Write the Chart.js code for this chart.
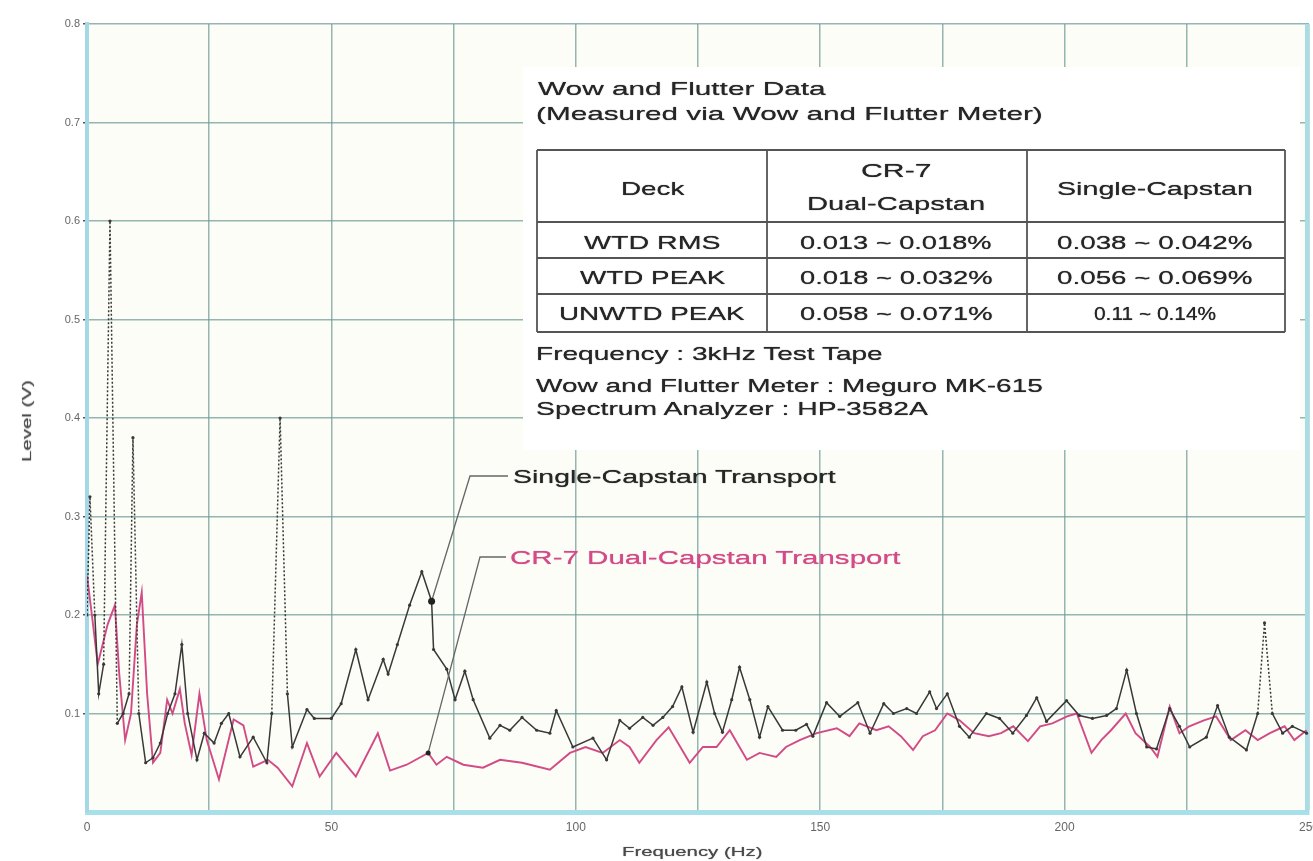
<!DOCTYPE html>
<html lang="en">
<head>
<meta charset="UTF-8" />
<title>Wow and Flutter Spectrum</title>
<script src="https://cdn.jsdelivr.net/npm/chart.js@4.4.1/dist/chart.umd.min.js"></script>
<style>
  html,body{margin:0;padding:0;background:#fff}
  #wrap{position:relative;width:1313px;height:861px;overflow:hidden;font-family:'Liberation Sans',Arial,sans-serif}
  #c{position:absolute;left:0;top:0}
  .t{position:absolute;white-space:nowrap;line-height:1;color:#262626;font-size:19px;transform-origin:0 50%;text-shadow:0 0 0.7px currentColor}
</style>
</head>
<body>
<div id="wrap"><canvas id="c" width="1313" height="861"></canvas></div>
<script>
// Single-Capstan transport (black trace): frequency in Hz, level in V
const singleFreq = [0, 0.6, 1.6, 2.4, 3.4, 4.7, 6.2, 7.4, 8.6, 9.4, 10.6, 12, 13.5, 15, 16.5, 18, 19.4, 20.6, 22.5, 24,
  26, 27.5, 29, 31.3, 34, 36.8, 37.8, 39.5, 41, 42, 45, 46.5, 50, 52, 55, 57.5, 60.6, 61.6, 63.5, 66,
  68.5, 70.5, 70.9, 73.6, 75.3, 77.3, 79, 82.4, 84.5, 86.5, 89, 92, 94.7, 96, 99.4, 103.5, 106.3, 109, 111, 113.7,
  115.8, 117.8, 119.8, 121.7, 124, 126.8, 128.4, 130, 131.9, 133.5, 135.6, 137.6, 139.3, 142.3, 145, 147.2, 148.5, 151.3, 154, 157.7,
  160.2, 163, 165, 167.7, 169.7, 172.4, 173.8, 176, 178.5, 180.5, 184, 186.7, 189.4, 192.2, 194.3, 196.3, 200.4, 203, 205.7, 208.6,
  210.6, 212.7, 214.7, 216.8, 218.8, 221.5, 223.5, 225.6, 229, 231.3, 233.7, 237.2, 239.5, 240.9, 242.5, 244.6, 246.6, 249.5];
const singleLevel = [0.2, 0.32, 0.2, 0.12, 0.15, 0.6, 0.09, 0.1, 0.12, 0.38, 0.1, 0.05, 0.055, 0.07, 0.1, 0.12, 0.17, 0.1, 0.053, 0.08,
  0.07, 0.09, 0.1, 0.056, 0.076, 0.05, 0.1, 0.4, 0.12, 0.066, 0.104, 0.095, 0.095, 0.11, 0.165, 0.114, 0.155, 0.14, 0.17, 0.21,
  0.244, 0.214, 0.165, 0.145, 0.114, 0.143, 0.114, 0.075, 0.088, 0.083, 0.096, 0.083, 0.08, 0.103, 0.066, 0.075, 0.053, 0.093, 0.085, 0.096,
  0.088, 0.096, 0.107, 0.127, 0.081, 0.132, 0.1, 0.081, 0.114, 0.147, 0.114, 0.076, 0.107, 0.083, 0.083, 0.089, 0.077, 0.111, 0.097, 0.111,
  0.08, 0.11, 0.1, 0.105, 0.1, 0.122, 0.105, 0.12, 0.087, 0.076, 0.1, 0.095, 0.08, 0.098, 0.116, 0.092, 0.113, 0.098, 0.095, 0.098,
  0.105, 0.144, 0.1, 0.066, 0.064, 0.105, 0.087, 0.066, 0.076, 0.108, 0.076, 0.063, 0.1, 0.192, 0.1, 0.08, 0.087, 0.08];

// CR-7 Dual-Capstan transport (pink trace)
const dualFreq = [0, 1, 2.2, 3.2, 4.2, 5.7, 6.6, 7.8, 9, 10.2, 11.2, 12.3, 13.5, 15, 16.4, 17.5, 19, 20, 21.4, 23,
  24.5, 27, 30, 32, 34, 37, 39, 42, 45, 47.6, 51, 55, 59.5, 62, 65.4, 69.8, 71.5, 73.6, 77, 81,
  84.5, 89, 94.7, 98.8, 102, 105.5, 109, 111, 113, 116.5, 119, 123.3, 126, 128.8, 131.5, 135, 137.6, 141, 143, 145.8,
  149.3, 153.4, 156, 158, 161.5, 164, 166.5, 169, 171, 173.5, 176, 178.5, 181.5, 184.5, 187, 189.5, 192.5, 195, 197.5, 200.5,
  202.5, 205.5, 207.5, 209.5, 212.5, 214.5, 217.5, 219, 221.5, 223.5, 225.5, 228.5, 231, 234, 237, 239.5, 242, 245, 247, 249.5];
const dualLevel = [0.24, 0.2, 0.15, 0.17, 0.19, 0.21, 0.14, 0.073, 0.1, 0.19, 0.223, 0.12, 0.05, 0.06, 0.114, 0.1, 0.125, 0.09, 0.058, 0.12,
  0.073, 0.033, 0.094, 0.088, 0.046, 0.053, 0.045, 0.026, 0.07, 0.036, 0.06, 0.036, 0.08, 0.042, 0.048, 0.06, 0.048, 0.056, 0.048, 0.045,
  0.053, 0.05, 0.043, 0.06, 0.066, 0.06, 0.073, 0.066, 0.05, 0.073, 0.086, 0.05, 0.066, 0.066, 0.083, 0.053, 0.06, 0.056, 0.066, 0.073,
  0.08, 0.085, 0.077, 0.09, 0.083, 0.087, 0.077, 0.063, 0.077, 0.083, 0.1, 0.093, 0.08, 0.077, 0.08, 0.087, 0.072, 0.087, 0.09, 0.097,
  0.1, 0.06, 0.073, 0.083, 0.1, 0.08, 0.066, 0.056, 0.107, 0.08, 0.087, 0.093, 0.097, 0.073, 0.083, 0.073, 0.08, 0.087, 0.073, 0.083];

const seriesNames = ['Single-Capstan Transport', 'CR-7 Dual-Capstan Transport'];
const xTickValues = [0, 50, 100, 150, 200, 250];
const yTickValues = [0.1, 0.2, 0.3, 0.4, 0.5, 0.6, 0.7, 0.8];

// wow & flutter table
const tableTitle = ['Wow and Flutter Data', '(Measured via Wow and Flutter Meter)'];
const tableHead = ['Deck', ['CR-7', 'Dual-Capstan'], 'Single-Capstan'];
const tableRows = [
  ['WTD RMS', '0.013 ~ 0.018%', '0.038 ~ 0.042%'],
  ['WTD PEAK', '0.018 ~ 0.032%', '0.056 ~ 0.069%'],
  ['UNWTD PEAK', '0.058 ~ 0.071%', '0.11 ~ 0.14%'],
];
const tableNotes = ['Frequency : 3kHz Test Tape', 'Wow and Flutter Meter : Meguro MK-615', 'Spectrum Analyzer : HP-3582A'];

// leader line targets (which point each label points at)
const singleLeaderFreq = 70.5;
const dualLeaderFreq = 69.8;

const BLACK = '#383838';
const PINK = '#d24b86';

const wrap = document.getElementById('wrap');

function place(text, x, y, o = {}) {
  const d = document.createElement('div');
  d.className = 't';
  d.textContent = text;
  if (o.size) d.style.fontSize = o.size + 'px';
  if (o.color) d.style.color = o.color;
  wrap.appendChild(d);
  const nat = d.offsetWidth, h = d.offsetHeight;
  const sx = o.w ? o.w / nat : (o.sx || 1.47);
  if (o.rot) {
    d.style.transformOrigin = '50% 50%';
    d.style.left = (x - nat / 2) + 'px';
    d.style.top = (y - h / 2) + 'px';
    d.style.transform = `rotate(-90deg) scaleX(${sx})`;
    return;
  }
  const w = nat * sx;
  d.style.left = (o.align === 'center' ? x - w / 2 : x) + 'px';
  d.style.top = (y - h / 2) + 'px';
  d.style.transform = `scaleX(${sx})`;
}

function pointPx(chart, f, list, levels) {
  const i = list.indexOf(f);
  return [chart.scales.x.getPixelForValue(f), chart.scales.y.getPixelForValue(levels[i])];
}

const annot = {
  id: 'annot',
  beforeDraw(chart) {
    const { ctx, chartArea: a } = chart;
    ctx.save();
    ctx.fillStyle = '#fcfdf6';
    ctx.fillRect(a.left, a.top, a.right - a.left, a.bottom - a.top);
    ctx.restore();
  },
  beforeDatasetsDraw(chart) {
    const { ctx, chartArea: a } = chart;
    ctx.save();
    // white panel behind the table
    ctx.fillStyle = '#ffffff';
    ctx.fillRect(523, 67, 777, 383);
    // right edge of plot
    ctx.strokeStyle = '#a9dde6';
    ctx.lineWidth = 4;
    ctx.beginPath(); ctx.moveTo(a.right - 2, a.top); ctx.lineTo(a.right - 2, a.bottom); ctx.stroke();
    // table rules
    ctx.strokeStyle = '#555';
    ctx.lineWidth = 1.8;
    const xs = [537, 767, 1027, 1285];
    const ys = [150, 222, 258, 294, 332];
    ctx.beginPath();
    ys.forEach(y => { ctx.moveTo(xs[0], y); ctx.lineTo(xs[3], y); });
    xs.forEach(x => { ctx.moveTo(x, ys[0]); ctx.lineTo(x, ys[4]); });
    ctx.stroke();
    ctx.restore();
  },
  afterDatasetsDraw(chart) {
    const { ctx } = chart;
    ctx.save();
    ctx.strokeStyle = '#666';
    ctx.lineWidth = 1.3;
    const [sx, sy] = pointPx(chart, singleLeaderFreq, singleFreq, singleLevel);
    ctx.beginPath(); ctx.moveTo(508, 476); ctx.lineTo(470, 476); ctx.lineTo(sx, sy); ctx.stroke();
    const [dx, dy] = pointPx(chart, dualLeaderFreq, dualFreq, dualLevel);
    ctx.beginPath(); ctx.moveTo(506, 557); ctx.lineTo(480, 557); ctx.lineTo(dx, dy); ctx.stroke();
    ctx.fillStyle = '#222';
    ctx.beginPath(); ctx.arc(sx, sy, 3.5, 0, Math.PI * 2); ctx.fill();
    ctx.beginPath(); ctx.arc(dx, dy, 2.5, 0, Math.PI * 2); ctx.fill();
    ctx.restore();
  }
};

new Chart(document.getElementById('c'), {
  type: 'line',
  data: {
    datasets: [
      {
        label: seriesNames[0],
        data: singleFreq.map((f, i) => ({ x: f, y: singleLevel[i] })),
        borderColor: BLACK,
        borderWidth: 1.5,
        pointRadius: 1.6,
        pointBackgroundColor: BLACK,
        pointBorderWidth: 0,
        tension: 0,
        segment: {
          borderDash: c => Math.abs(c.p1.parsed.y - c.p0.parsed.y) > 0.09 ? [2, 2] : undefined
        }
      },
      {
        label: seriesNames[1],
        data: dualFreq.map((f, i) => ({ x: f, y: dualLevel[i] })),
        borderColor: PINK,
        borderWidth: 1.9,
        pointRadius: 0,
        tension: 0
      }
    ]
  },
  options: {
    responsive: false,
    animation: false,
    layout: { padding: { left: 0, right: 3, top: 24, bottom: 0 } },
    plugins: { legend: { display: false }, tooltip: { enabled: false } },
    scales: {
      x: {
        type: 'linear',
        min: 0, max: 250,
        afterFit: s => { s.height = 49; s.paddingLeft = 0; s.paddingRight = 0; },
        ticks: {
          stepSize: 25,
          autoSkip: false,
          maxRotation: 0,
          padding: 8,
          color: '#666',
          font: { family: 'Liberation Sans', size: 12 },
          callback: v => xTickValues.includes(v) ? String(v) : ''
        },
        grid: { color: 'rgba(115,155,155,0.75)', lineWidth: 1.5, drawTicks: false },
        border: { color: '#a8e0ea', width: 5 }
      },
      y: {
        min: 0, max: 0.8,
        afterFit: s => { s.width = 87; s.paddingTop = 0; s.paddingBottom = 0; },
        ticks: {
          stepSize: 0.1,
          padding: 3,
          color: '#666',
          font: { family: 'Liberation Sans', size: 11 },
          callback: v => yTickValues.some(t => Math.abs(t - v) < 1e-6) ? v.toFixed(1) : ''
        },
        grid: {
          color: 'rgba(115,155,155,0.75)', lineWidth: 1.5, tickLength: 4,
          tickColor: c => c.tick && c.tick.value === 0 ? 'rgba(0,0,0,0)' : '#555'
        },
        border: { color: '#a4d8e6', width: 4 }
      }
    }
  },
  plugins: [annot]
});

// panel texts
place(tableTitle[0], 538, 88, { w: 287 });
place(tableTitle[1], 536, 113, { w: 507 });
const colX = [652, 896, 1155];
place(tableHead[0], colX[0], 188, { align: 'center', w: 63 });
place(tableHead[1][0], colX[1], 170, { align: 'center', w: 70 });
place(tableHead[1][1], colX[1], 203, { align: 'center', w: 178 });
place(tableHead[2], colX[2], 188, { align: 'center', w: 196 });
const rowY = [242, 277, 313];
const cellW = [[137, 192, 196], [145, 193, 196], [186, 193, 122]];
tableRows.forEach((r, i) => r.forEach((t, j) => place(t, colX[j], rowY[i], { align: 'center', w: cellW[i][j] })));
place(tableNotes[0], 536, 353, { w: 347 });
place(tableNotes[1], 536, 385, { w: 507 });
place(tableNotes[2], 536, 408, { w: 392 });

// series labels
place(seriesNames[0], 513, 476, { w: 322 });
place(seriesNames[1], 510, 557, { w: 390, color: PINK });

// axis titles
place('Level (V)', 27, 421, { size: 12, w: 82, rot: true, color: '#4a4a4a' });
place('Frequency (Hz)', 692, 852, { size: 12, w: 141, align: 'center', color: '#4a4a4a' });
</script>
</body>
</html>
